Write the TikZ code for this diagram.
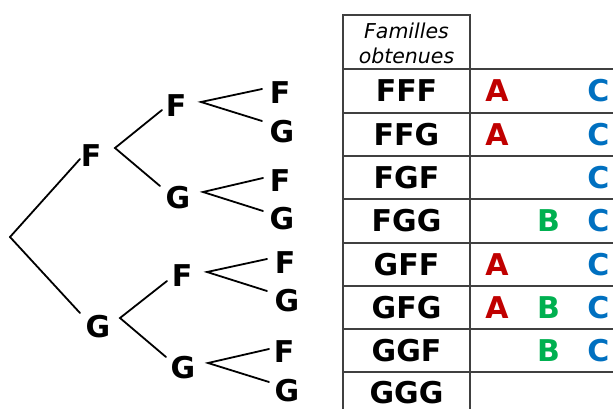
\documentclass[tikz,border=0pt]{standalone}
\usepackage{fontspec}
\setmainfont{DejaVu Sans}
\definecolor{cA}{HTML}{C00000}
\definecolor{cB}{HTML}{00B050}
\definecolor{cC}{HTML}{0070C0}
\tikzset{
  lbl/.style={font=\fontsize{30}{30}\selectfont\bfseries, inner sep=0pt},
  hdr/.style={font=\fontsize{20.5}{25}\selectfont\itshape, inner sep=0pt, align=center},
  branch/.style={line width=1.8pt, black, line cap=round},
  rule/.style={line width=1.2pt, draw=black!75},
}
\begin{document}
\begin{tikzpicture}[x=1pt,y=-1pt]
\useasboundingbox (0,0) rectangle (613,409);
% ---- tree labels
\node[lbl] (F) at (91,156) {F};
\node[lbl] (G) at (98,327) {G};
\node[lbl] (FF) at (176,106) {F};
\node[lbl] (FG) at (178,198) {G};
\node[lbl] (GF) at (182,276) {F};
\node[lbl] (GG) at (183,367.5) {G};
\node[lbl] (FFF) at (280,92.5) {F};
\node[lbl] (FFG) at (282,132) {G};
\node[lbl] (FGF) at (280,181) {F};
\node[lbl] (FGG) at (282,219) {G};
\node[lbl] (GFF) at (285,262.5) {F};
\node[lbl] (GFG) at (287,301) {G};
\node[lbl] (GGF) at (284,352) {F};
\node[lbl] (GGG) at (287,390.5) {G};
% ---- branch points
\coordinate (r) at (10,237);
\coordinate (F-in) at (80,159);
\coordinate (G-in) at (80,313);
\coordinate (F-out) at (115,148);
\coordinate (FF-in) at (162,110);
\coordinate (FG-in) at (160,186);
\coordinate (G-out) at (120,318);
\coordinate (GF-in) at (167,281);
\coordinate (GG-in) at (166,357);
\coordinate (FF-out) at (201,102);
\coordinate (FFF-in) at (262,89);
\coordinate (FFG-in) at (262,121);
\coordinate (FG-out) at (203,192);
\coordinate (FGF-in) at (263,178);
\coordinate (FGG-in) at (263,211);
\coordinate (GF-out) at (207,272);
\coordinate (GFF-in) at (267,259);
\coordinate (GFG-in) at (267,291);
\coordinate (GG-out) at (208,363);
\coordinate (GGF-in) at (269,349);
\coordinate (GGG-in) at (269,382);
\draw[branch] (F-in) -- (r) -- (G-in);
\draw[branch] (FF-in) -- (F-out) -- (FG-in);
\draw[branch] (GF-in) -- (G-out) -- (GG-in);
\draw[branch] (FFF-in) -- (FF-out) -- (FFG-in);
\draw[branch] (FGF-in) -- (FG-out) -- (FGG-in);
\draw[branch] (GFF-in) -- (GF-out) -- (GFG-in);
\draw[branch] (GGF-in) -- (GG-out) -- (GGG-in);
% ---- table
\coordinate (t1) at (343,15);
\coordinate (t2) at (470,15);
\coordinate (b1) at (343,409);
\coordinate (b2) at (470,409);
\draw[rule] (b1) -- (t1) -- (t2) -- (b2);
\foreach \y in {69,113,156,199,243,286,329,372}
  \draw[rule] (343,\y) -- (613,\y);
\node[hdr] (head) at (406.5,43.5) {Familles\\obtenues};
\node[lbl] (r1) at (406.5,91) {FFF};
\node[lbl] (r2) at (406.5,134.5) {FFG};
\node[lbl] (r3) at (406.5,177.5) {FGF};
\node[lbl] (r4) at (406.5,221) {FGG};
\node[lbl] (r5) at (406.5,264.5) {GFF};
\node[lbl] (r6) at (406.5,307.5) {GFG};
\node[lbl] (r7) at (406.5,350.5) {GGF};
\node[lbl] (r8) at (406.5,393) {GGG};
\node[lbl, text=cA] (a1) at (497,91) {A};
\node[lbl, text=cA] (a2) at (497,134.5) {A};
\node[lbl, text=cA] (a5) at (497,264.5) {A};
\node[lbl, text=cA] (a6) at (497,307.5) {A};
\node[lbl, text=cB] (b4) at (548.5,221) {B};
\node[lbl, text=cB] (b6) at (548.5,307.5) {B};
\node[lbl, text=cB] (b7) at (548.5,350.5) {B};
\node[lbl, text=cC] (c1) at (598.5,91) {C};
\node[lbl, text=cC] (c2) at (598.5,134.5) {C};
\node[lbl, text=cC] (c3) at (598.5,177.5) {C};
\node[lbl, text=cC] (c4) at (598.5,221) {C};
\node[lbl, text=cC] (c5) at (598.5,264.5) {C};
\node[lbl, text=cC] (c6) at (598.5,307.5) {C};
\node[lbl, text=cC] (c7) at (598.5,350.5) {C};
\end{tikzpicture}
\end{document}
